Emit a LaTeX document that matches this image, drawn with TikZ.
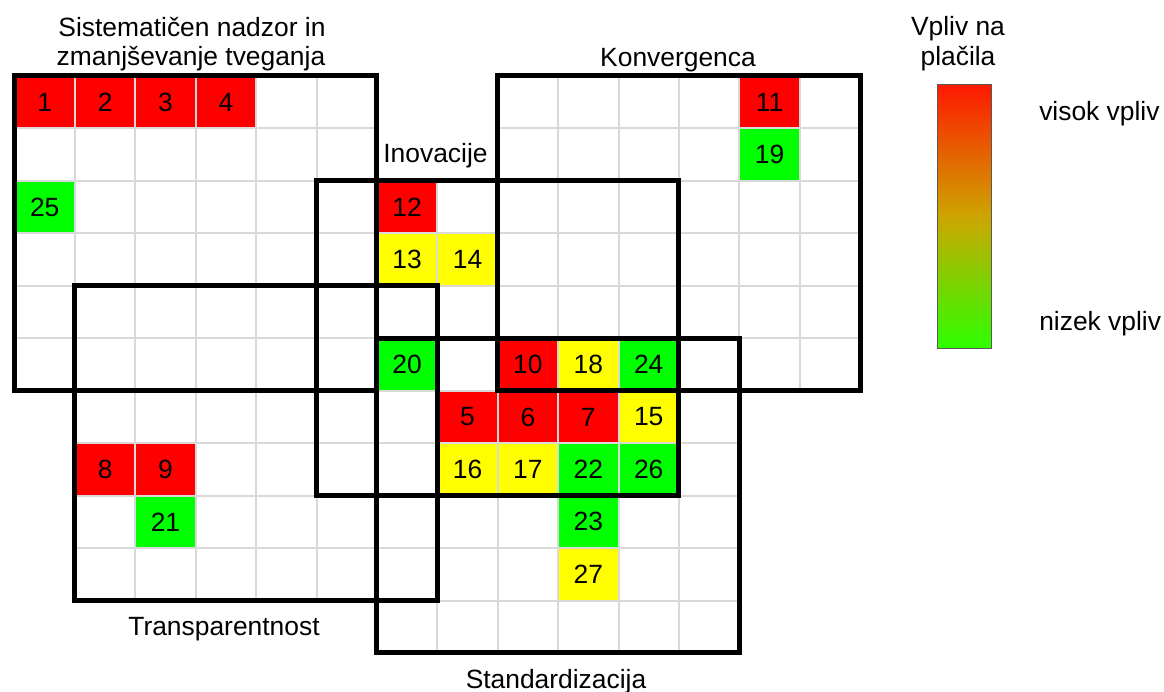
\documentclass[tikz,border=0pt]{standalone}
\usepackage{fontspec}
\setmainfont{Liberation Sans}
\usepackage{xcolor}
\usepackage{tikz}
\usetikzlibrary{positioning}

\definecolor{visok}{RGB}{255,0,0}
\definecolor{srednji}{RGB}{255,255,0}
\definecolor{nizek}{RGB}{0,255,0}
\definecolor{mreza}{RGB}{217,217,217}
\definecolor{lestvicaZg}{RGB}{255,25,0}
\definecolor{lestvicaSr}{RGB}{205,165,0}
\definecolor{lestvicaSp}{RGB}{45,255,0}

\begin{document}
\begin{tikzpicture}[x=0.75pt, y=-0.75pt,
    napis/.style={font=\fontsize{19.8}{23}\selectfont, inner sep=0pt},
    celica/.style={napis, minimum width=45.3pt, minimum height=39.34pt},
    crta/.style={draw=mreza, line width=1.5pt},
    okvir/.style={draw=black, line width=3.75pt}]
    \useasboundingbox (0,0) rectangle (1164,692);

    % 1. Mreza 14 x 11 celic (celica 60.4 x 52.45 px)
    \begin{scope}[shift={(14.5,76)}, x=45.3pt, y=-39.3375pt]
        % barvne celice: stolpec/vrstica/stevilka/vpliv
        \foreach \c/\r/\n/\b in {0/0/1/visok, 1/0/2/visok, 2/0/3/visok, 3/0/4/visok,
            12/0/11/visok, 12/1/19/nizek, 0/2/25/nizek, 6/2/12/visok,
            6/3/13/srednji, 7/3/14/srednji, 6/5/20/nizek, 8/5/10/visok,
            9/5/18/srednji, 10/5/24/nizek, 7/6/5/visok, 8/6/6/visok,
            9/6/7/visok, 10/6/15/srednji, 1/7/8/visok, 2/7/9/visok,
            7/7/16/srednji, 8/7/17/srednji, 9/7/22/nizek, 10/7/26/nizek,
            2/8/21/nizek, 9/8/23/nizek, 9/9/27/srednji}
            \node[celica, fill=\b] (c\n) at (\c+0.5,\r+0.5) {\n};

        % sive crte znotraj vsakega podrocja
        \foreach \ox/\oy in {0/0, 8/0, 5/2, 1/4, 6/5}{
            \foreach \i in {1,...,5}{
                \draw[crta] (\ox+\i,\oy) -- (\ox+\i,\oy+6);
                \draw[crta] (\ox,\oy+\i) -- (\ox+6,\oy+\i);
            }
        }

        % 2. Crni okvirji podrocij
        \foreach \ox/\oy in {0/0, 8/0, 5/2, 1/4, 6/5}
            \draw[okvir] (\ox,\oy) rectangle (\ox+6,\oy+6);
    \end{scope}

    % 3. Imena podrocij
    \node[napis, anchor=base] (sist) at (192,37) {Sistematičen nadzor in};
    \node[napis, anchor=base] (sistb) at (191,65) {zmanjševanje tveganja};
    \node[napis, anchor=base] (konv) at (678,67) {Konvergenca};
    \node[napis, anchor=base] (inov) at (435.5,162) {Inovacije};
    \node[napis, anchor=base] (transp) at (224,635) {Transparentnost};
    \node[napis, anchor=base] (stand) at (556,688) {Standardizacija};

    % 4. Legenda
    \node[napis, anchor=base] (vpliv) at (958,36) {Vpliv na};
    \node[napis, anchor=base] (vplivb) at (958,65) {plačila};
    \node[draw=black!65, line width=0.75pt, inner sep=0pt,
        minimum width=40.5pt, minimum height=197.25pt,
        top color=lestvicaZg, bottom color=lestvicaSp, middle color=lestvicaSr]
        (lestvica) at (964,216.5) {};
    \node[napis, anchor=base west] (visokv) at (1039,120) {visok vpliv};
    \node[napis, anchor=base west] (nizekv) at (1039,330) {nizek vpliv};

\end{tikzpicture}
\end{document}
